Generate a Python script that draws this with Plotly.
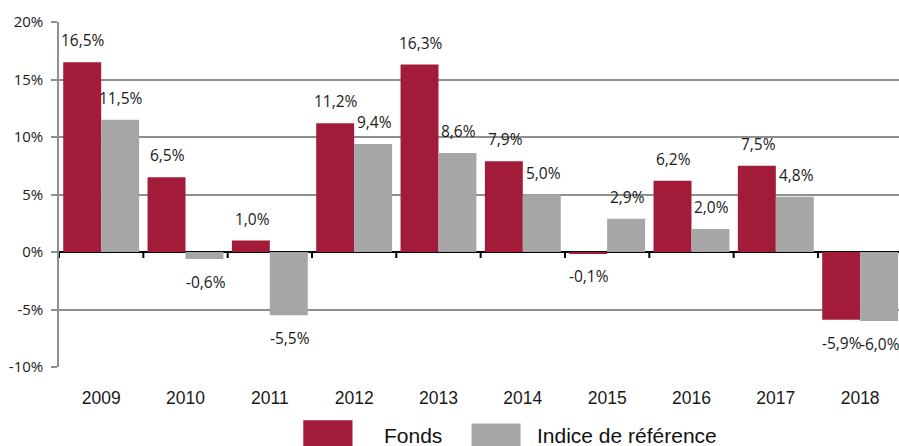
import plotly.graph_objects as go

years = ["2009", "2010", "2011", "2012", "2013", "2014", "2015", "2016", "2017", "2018"]
fonds = [16.5, 6.5, 1.0, 11.2, 16.3, 7.9, -0.1, 6.2, 7.5, -5.9]
indice = [11.5, -0.6, -5.5, 9.4, 8.6, 5.0, 2.9, 2.0, 4.8, -6.0]
series_names = ["Fonds", "Indice de référence"]
y_ticks = [-10, -5, 0, 5, 10, 15, 20]

RED = "#A21C3A"
GRAY = "#A6A6A6"
GRID = "#8F8F8F"
LABEL_FONT = dict(family="Open Sans, Liberation Sans, Arial", size=15.5, color="#1a1a1a")

x_idx = list(range(len(years)))

fig = go.Figure()
fig.add_trace(go.Bar(x=x_idx, y=fonds, name=series_names[0], marker=dict(color=RED, line=dict(width=0))))
fig.add_trace(go.Bar(x=x_idx, y=indice, name=series_names[1], marker=dict(color=GRAY, line=dict(width=0))))

# Plot area geometry (pixels)
W, H = 899, 446
L, T = 59.3, 21.7
B_px = 367.3
R = W
plot_h = B_px - T
plot_w = R - L

def px_x(p):
    return (p - L) / plot_w

def px_y(p):
    return (B_px - p) / plot_h

def fmt(v):
    return f"{v:.1f}".replace(".", ",") + "%"

annotations = []
off = 0.225
for i, (a, b) in enumerate(zip(fonds, indice)):
    for v, dx in ((a, -off), (b, off)):
        annotations.append(dict(
            x=i + dx + 0.015, y=v, xref="x", yref="y", text=fmt(v), showarrow=False,
            yshift=22 if v >= 0 else -23, font=LABEL_FONT, xanchor="center", yanchor="middle"))

# Legend drawn as shapes + text
shapes = []
legend_items = [
    (series_names[0], RED, 303.5, 352.7, 420.7, 384.0),
    (series_names[1], GRAY, 471.7, 520.7, 424.0, 536.7),
]
for name, col, x0, x1, ytop, tx in legend_items:
    shapes.append(dict(type="rect", xref="paper", yref="paper",
                       x0=px_x(x0), x1=px_x(x1), y0=px_y(452), y1=px_y(ytop),
                       fillcolor=col, line=dict(width=0), layer="above"))
    annotations.append(dict(x=px_x(tx - 2), y=px_y(435.5), xref="paper", yref="paper",
                            text=name, showarrow=False, xanchor="left", yanchor="middle",
                            font=dict(family="Liberation Sans, Arial", size=21, color="#111111")))

# Category boundary ticks on the zero line
for k in range(len(years)):
    shapes.append(dict(type="line", xref="x", yref="y", ysizemode="pixel", yanchor=0,
                       x0=k - 0.5, x1=k - 0.5, y0=0, y1=-6,
                       line=dict(color="black", width=2), layer="above"))

fig.update_layout(
    width=W, height=H,
    margin=dict(l=L, r=0, t=T, b=H - B_px, pad=0),
    paper_bgcolor="white", plot_bgcolor="white",
    barmode="group", bargap=0.1, bargroupgap=0,
    showlegend=False,
    font=dict(family="Liberation Sans, Arial", color="#1a1a1a"),
    xaxis=dict(
        range=[-0.5, -0.5 + plot_w / 84.3], tickmode="array", tickvals=x_idx, ticktext=years,
        showgrid=False, zeroline=False, showline=False, ticks="",
        tickfont=dict(family="Liberation Sans, Arial", size=17.5, color="#1a1a1a"),
        ticklabelstandoff=18,
    ),
    yaxis=dict(
        range=[-10, 20], tickmode="array", tickvals=y_ticks,
        ticktext=[f"{t}%" for t in y_ticks],
        showgrid=True, gridcolor=GRID, gridwidth=1.5,
        zeroline=True, zerolinecolor="black", zerolinewidth=2,
        showline=True, linecolor=GRID, linewidth=1.5,
        ticks="outside", ticklen=6, tickcolor=GRID, tickwidth=1.5,
        tickfont=dict(family="Open Sans, Liberation Sans, Arial", size=15, color="#1a1a1a"),
        ticklabelstandoff=5,
    ),
    annotations=annotations,
    shapes=shapes,
)

fig.write_html("out.html")
